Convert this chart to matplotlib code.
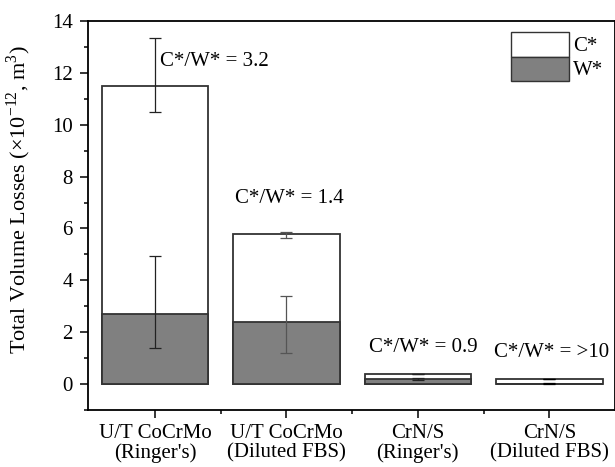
import matplotlib
matplotlib.use("Agg")
import matplotlib.pyplot as plt
import numpy as np
from matplotlib.patches import Patch

plt.rcParams['font.family'] = ['Liberation Serif', 'DejaVu Serif']
plt.rcParams['mathtext.fontset'] = 'custom'
plt.rcParams['mathtext.rm'] = 'Liberation Serif'

categories = ["U/T CoCrMo\n(Ringer's)", "U/T CoCrMo\n(Diluted FBS)", "CrN/S\n(Ringer's)", "CrN/S\n(Diluted FBS)"]
total = [11.5, 5.8, 0.4, 0.2]
wear = [2.7, 2.4, 0.2, 0.01]
total_err_low = [1.0, 0.18, 0.0, 0.0]
total_err_high = [1.85, 0.08, 0.0, 0.0]
wear_err_low = [1.3, 1.2, 0.04, 0.02]
wear_err_high = [2.25, 0.98, 0.04, 0.02]
ratios = ["C*/W* = 3.2", "C*/W* = 1.4", "C*/W* = 0.9", "C*/W* = >10"]

fig = plt.figure(figsize=(6.15, 4.67), dpi=100)
ax = fig.add_axes([0.143, 0.122, 0.857, 0.833])
x = np.arange(len(categories))
w = 0.81

ax.bar(x, total, width=w, color='white', edgecolor='#333333', linewidth=1.3, zorder=2)
ax.bar(x, wear, width=w, color='#808080', edgecolor='#333333', linewidth=1.3, zorder=3)
err_colors = ['#222222', '#555555', '#222222', '#000000']
for i in range(len(x)):
    ax.errorbar(x[i], total[i], yerr=[[total_err_low[i]], [total_err_high[i]]], fmt='none',
                ecolor=err_colors[i], elinewidth=0.9, capsize=4, capthick=0.9, zorder=4)
    ax.errorbar(x[i], wear[i], yerr=[[wear_err_low[i]], [wear_err_high[i]]], fmt='none',
                ecolor=err_colors[i], elinewidth=0.9, capsize=4, capthick=0.9, zorder=4)

ann_pos = [(0.04, 12.45), (-0.39, 7.15), (-0.37, 1.43), (-0.42, 1.2)]
for i, (dx, yy) in enumerate(ann_pos):
    ax.text(x[i] + dx, yy, ratios[i], fontsize=15, ha='left', va='center')

ax.set_xlim(-0.51, 3.5)
ax.set_ylim(-1, 14)
ax.set_yticks([0, 2, 4, 6, 8, 10, 12, 14])
ax.set_yticks(np.arange(-1, 14, 1), minor=True)
ax.set_xticks(x)
ax.set_xticks(x[:-1] + 0.5, minor=True)
ax.set_xticklabels(categories, fontsize=15, linespacing=1.05)
ax.tick_params(axis='both', which='major', labelsize=15, length=6, width=1.1, direction='out')
ax.tick_params(axis='both', which='minor', length=3, width=1.1, direction='out')
ax.tick_params(axis='x', pad=4)
ax.tick_params(axis='y', pad=5)
for s in ax.spines.values():
    s.set_linewidth(1.3)
ax.set_ylabel(r"Total Volume Losses ($\times$10$^{-12}$, m$^{3}$)", fontsize=16)
ax.yaxis.set_label_coords(-0.104, 0.54)

handles = [Patch(facecolor='white', edgecolor='#333333', label='C*'),
           Patch(facecolor='#808080', edgecolor='#333333', label='W*')]
ax.legend(handles=handles, loc='upper right', frameon=False, fontsize=15,
          handlelength=2.8, handleheight=1.4, handletextpad=0.2, labelspacing=0.0,
          borderaxespad=0.15, borderpad=0.4)

fig.savefig("out.png", dpi=100)
